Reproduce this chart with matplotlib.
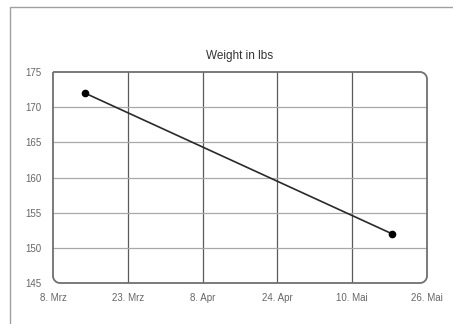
import matplotlib
matplotlib.use("Agg")
import matplotlib.pyplot as plt
import matplotlib.dates as mdates
from matplotlib.path import Path
from matplotlib.patches import PathPatch, Rectangle
import datetime as dt

plt.rcParams['font.family'] = ['Liberation Sans', 'DejaVu Sans']

dates = [dt.datetime(2012, 3, 14, 20), dt.datetime(2012, 5, 19, 12)]
weights = [172, 152]
# ticks are 16 days apart (labels as displayed in the chart)
xtick_dates = [dt.datetime(2012, 3, 8), dt.datetime(2012, 3, 24), dt.datetime(2012, 4, 9),
               dt.datetime(2012, 4, 25), dt.datetime(2012, 5, 11), dt.datetime(2012, 5, 27)]
xtick_labels = ["8. Mrz", "23. Mrz", "8. Apr", "24. Apr", "10. Mai", "26. Mai"]
yticks = [145, 150, 155, 160, 165, 170, 175]
title = "Weight in lbs"

W, H = 453, 324
fig = plt.figure(figsize=(W / 100, H / 100), dpi=100)
fig.patch.set_facecolor("white")

# outer frame
fig.add_artist(Rectangle((9.5 / W, -0.1), 1.2, 1 - 7.5 / H + 0.1, transform=fig.transFigure,
                         fill=False, edgecolor="#a0a0a0", linewidth=1.0))

L, R, T, B = 53, 427, 72, 283
ax = fig.add_axes([L / W, 1 - B / H, (R - L) / W, (B - T) / H])
ax.set_facecolor("white")

xnums = [mdates.date2num(d) for d in xtick_dates]
ax.set_xlim(xnums[0], xnums[-1])
ax.set_ylim(yticks[0], yticks[-1])

for x in xnums[1:-1]:
    ax.axvline(x, color="#5a5a5a", linewidth=0.9, zorder=1)
for y in yticks[1:-1]:
    ax.axhline(y, color="#a8a8a8", linewidth=0.9, zorder=1)

ax.plot([mdates.date2num(d) for d in dates], weights, color="#2a2a2a", linewidth=1.2,
        marker="o", markersize=4.5, markerfacecolor="black", markeredgecolor="black", zorder=3)

ax.set_xticks(xnums)
ax.set_xticklabels(xtick_labels)
ax.set_yticks(yticks)
ax.tick_params(axis="both", length=0, labelsize=7, labelcolor="#666666")
ax.tick_params(axis="x", pad=7)
ax.tick_params(axis="y", pad=8)
for s in ax.spines.values():
    s.set_visible(False)

# rounded border (top-left square)
wpx, hpx = R - L, B - T
rx, ry = 7 / wpx, 7 / hpx
k = 0.55
verts = [(0, 1), (1 - rx, 1),
         (1 - rx + k * rx, 1), (1, 1 - ry + k * ry), (1, 1 - ry),
         (1, ry),
         (1, ry - k * ry), (1 - rx + k * rx, 0), (1 - rx, 0),
         (rx, 0),
         (rx - k * rx, 0), (0, ry - k * ry), (0, ry),
         (0, 1)]
codes = [Path.MOVETO, Path.LINETO,
         Path.CURVE4, Path.CURVE4, Path.CURVE4,
         Path.LINETO,
         Path.CURVE4, Path.CURVE4, Path.CURVE4,
         Path.LINETO,
         Path.CURVE4, Path.CURVE4, Path.CURVE4,
         Path.LINETO]
ax.add_patch(PathPatch(Path(verts, codes), transform=ax.transAxes, fill=False,
                       edgecolor="#707070", linewidth=1.3, clip_on=False, zorder=4))

ax.set_title(title, fontsize=8.5, color="#333333", pad=9)

fig.savefig("out.png", dpi=100)
